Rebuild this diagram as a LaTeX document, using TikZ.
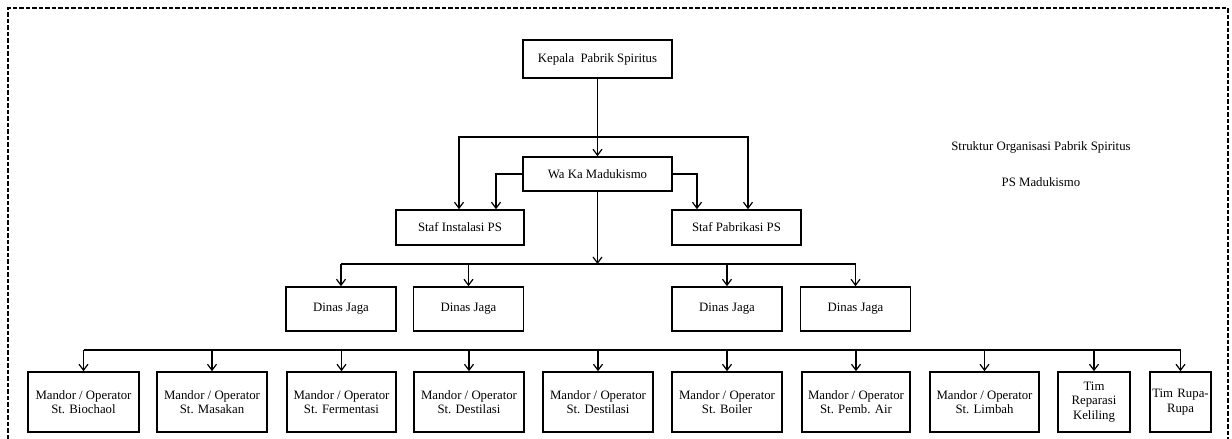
\documentclass[tikz,border=0pt]{standalone}
\usepackage{fontspec}
\setmainfont{Liberation Serif}
\usetikzlibrary{arrows.meta}

\tikzset{
    box/.style={draw, line width=1.6pt, align=center, inner sep=1pt, font=\fontsize{12.8}{14.5}\selectfont},
    arr/.style={-{Straight Barb[length=6pt,width=9pt]}, line width=1.2pt},
    bus/.style={line width=1.2pt},
}

\begin{document}
\begin{tikzpicture}[x=1pt, y=-1pt]
        \useasboundingbox (0,0) rectangle (1232,439);

        % frame
        \draw[line width=2pt, dash pattern=on 4.5pt off 2pt] (8,439) -- (8,8) -- (1228,8) -- (1228,439);

        % top
        \node[box, minimum width=149, minimum height=38] (kepala) at (597.5,59) {Kepala~~Pabrik Spiritus};
        \node[box, minimum width=149, minimum height=34] (waka) at (597.5,174) {Wa Ka Madukismo};

        % staf
        \node[box, minimum width=128, minimum height=35] (instalasi) at (460,227.5) {Staf Instalasi PS};
        \node[box, minimum width=129, minimum height=35] (pabrikasi) at (736.5,227.5) {Staf Pabrikasi PS};

        % dinas jaga
        \node[box, minimum width=110, minimum height=44] (dinas1) at (341,309) {Dinas Jaga};
        \node[box, minimum width=110, minimum height=44] (dinas2) at (468.5,309) {Dinas Jaga};
        \node[box, minimum width=110, minimum height=44] (dinas3) at (727,309) {Dinas Jaga};
        \node[box, minimum width=110, minimum height=44] (dinas4) at (855.5,309) {Dinas Jaga};

        % mandor / operator
        \node[box, minimum width=111, minimum height=60] (st1) at (83.5,402) {Mandor / Operator\\St. Biochaol};
        \node[box, minimum width=110, minimum height=60] (st2) at (212,402) {Mandor / Operator\\St. Masakan};
        \node[box, minimum width=109, minimum height=60] (st3) at (341.5,402) {Mandor / Operator\\St. Fermentasi};
        \node[box, minimum width=110, minimum height=60] (st4) at (469,402) {Mandor / Operator\\St. Destilasi};
        \node[box, minimum width=110, minimum height=60] (st5) at (598,402) {Mandor / Operator\\St. Destilasi};
        \node[box, minimum width=110, minimum height=60] (st6) at (727,402) {Mandor / Operator\\St. Boiler};
        \node[box, minimum width=108, minimum height=60] (st7) at (856,402) {Mandor / Operator\\St. Pemb. Air};
        \node[box, minimum width=109, minimum height=60] (st8) at (984.5,402) {Mandor / Operator\\St. Limbah};
        \node[box, minimum width=72, minimum height=60] (st9) at (1094,402) {Tim\\Reparasi\\Keliling};
        \node[box, minimum width=61, minimum height=60, text width=59] (st10) at (1180.5,402) {Tim Rupa-\\Rupa};

        % title
        \node[font=\fontsize{12.8}{14.5}\selectfont] (judul1) at (1041,147) {Struktur Organisasi Pabrik Spiritus};
        \node[font=\fontsize{12.8}{14.5}\selectfont] (judul2) at (1041,182) {PS Madukismo};

        % kepala -> wa ka, staf
        \coordinate (split) at (597.5,137);
        \draw[arr] (kepala.south) -- (waka.north);
        \draw[arr] (split) -| ([xshift=-1]instalasi.north);
        \draw[arr] (split) -| ([xshift=11.5]pabrikasi.north);
        \draw[arr] (waka.west) -| ([xshift=36]instalasi.north);
        \draw[arr] (waka.east) -| ([xshift=-39.5]pabrikasi.north);

        % wa ka -> dinas jaga
        \coordinate (dbus) at (597.5,264);
        \draw[arr] (waka.south) -- (dbus);
        \draw[bus] (dinas1.north |- dbus) -- (dinas4.north |- dbus);
        \foreach \n in {1,...,4}
            \draw[arr] (dinas\n.north |- dbus) -- (dinas\n.north);

        % mandor line
        \coordinate (mbus) at (597.5,350);
        \draw[bus] (st1.north |- mbus) -- (st10.north |- mbus);
        \foreach \n in {1,...,10}
            \draw[arr] (st\n.north |- mbus) -- (st\n.north);
    \end{tikzpicture}
\end{document}
